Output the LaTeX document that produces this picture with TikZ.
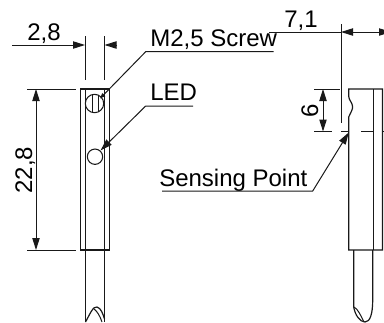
\documentclass[tikz,border=0pt]{standalone}
\usepackage{fontspec}
\setmainfont{Liberation Sans}
\usetikzlibrary{arrows.meta}
\tikzset{
	bodyline/.style={draw=black!90, line width=0.9pt},
	dimline/.style={draw=black!90, line width=0.75pt},
	dimtip/.style={dimline, arrows={-{Triangle[length=9pt,width=5.5pt]}}},
	dimtips/.style={dimline, arrows={{Triangle[length=9pt,width=5.5pt]}-{Triangle[length=9pt,width=5.5pt]}}},
	lbl/.style={black, inner sep=0pt, font=\fontsize{18}{20}\selectfont},
}
\begin{document}
\begin{tikzpicture}[x=0.75pt,y=-0.75pt]
		\useasboundingbox (0,0) rectangle (384,322);
		% texts
		\node[lbl, anchor=base west] (widthlabel) at (27,40) {2,8};
		\node[lbl, anchor=base west] (screwlabel) at (150,46) {M2,5 Screw};
		\node[lbl, anchor=base west] (ledlabel) at (150,100) {LED};
		\node[lbl, anchor=base, rotate=90] (heightlabel) at (32,170) {22,8};
		\node[lbl, anchor=base west] (offsetlabel) at (284,27) {7,1};
		\node[lbl, anchor=base, rotate=90] (sixlabel) at (318,111) {6};
		\node[lbl, anchor=base west] (sensinglabel) at (159,186) {Sensing Point};
		% left view
		\draw[bodyline] (80.5,89) rectangle (109.5,250);
		\draw[dimline] (85.5,89) -- (85.5,250);
		\draw[dimline] (104.5,89) -- (104.5,250);
		\draw[bodyline] (85.5,250) -- (85.5,322);
		\draw[bodyline] (104.5,250) -- (104.5,322);
		\node[circle, draw=black!90, line width=0.8pt, minimum size=13.8pt, inner sep=0pt] (screwhole) at (94.5,103.5) {};
		\draw[dimline] (92,95) -- (92,112);
		\draw[dimline] (98,95) -- (98,112);
		\node[circle, draw=black!90, line width=0.8pt, minimum size=11.5pt, inner sep=0pt] (ledhole) at (95,156.7) {};
		\draw[bodyline] (85.5,322) .. controls (90,314) and (93,306) .. (97,307) .. controls (101,308) and (103,314) .. (104.5,319);
		\draw[dimline] (94,309) .. controls (97,311) and (100,316) .. (102,322);
		% right view
		\draw[bodyline] (348.7,89) -- (382.5,89) -- (382.5,250) -- (348.7,250) -- (348.7,117) .. controls (351,112) and (353,109) .. (352.5,106) .. controls (352,102) and (348.7,100) .. (348.7,96) -- cycle;
		\draw[bodyline] (373.7,89) -- (373.7,250);
		\draw[bodyline] (353.7,250) -- (353.7,307) .. controls (355,315) and (360,322) .. (365,322) .. controls (370,322) and (372.7,314) .. (372.7,300) -- (372.7,250);
		\draw[dimline] (354,307) .. controls (358,309) and (361,316) .. (364,322);
		\draw[dimline] (341,131.5) -- (348.7,131.5);
		\draw[dimline] (361,131.5) -- (373.7,131.5);
		\draw[dimline] (382,131.5) -- (384,131.5);
		% width
		\coordinate (widthfree) at (12,45);
		\coordinate (widthleft) at (85,45);
		\coordinate (widthright) at (104.5,45);
		\coordinate (widthstub) at (117,45);
		\draw[dimtip] (widthfree) -- (widthleft);
		\draw[dimtip] (widthstub) -- (widthright);
		\draw[dimline] (widthleft |- 0,36) -- (widthleft |- 0,80);
		\draw[dimline] (widthright |- 0,36) -- (widthright |- 0,80);
		% height
		\coordinate (heighttop) at (36,89);
		\coordinate (heightbot) at (36,250);
		\draw[dimtips] (heighttop) -- (heightbot);
		\draw[dimline] (27,89) -- (76,89);
		\draw[dimline] (27,250) -- (76,250);
		% offset
		\coordinate (offsetfree) at (269,32);
		\coordinate (offsetleft) at (341,32);
		\coordinate (offsetright) at (391,32);
		\draw[dimline] (offsetfree) -- (offsetleft);
		\draw[dimtips] (offsetleft) -- (offsetright);
		\draw[dimline] (341,24) -- (341,123);
		% six
		\coordinate (sixtop) at (323,89);
		\coordinate (sixbot) at (323,131.5);
		\draw[dimtips] (sixtop) -- (sixbot);
		\draw[dimline] (314,89) -- (340,89);
		\draw[dimline] (314,131.5) -- (332,131.5);
		% leaders
		\coordinate (screwend) at (273.7,51.7);
		\coordinate (screwknee) at (145.7,51.7);
		\coordinate (screwtip) at (100,98.5);
		\draw[dimline, arrows={-{Triangle[length=4pt,width=3pt]}}] (screwend) -- (screwknee) -- (screwtip);
		\coordinate (ledend) at (193,106);
		\coordinate (ledknee) at (145.7,106);
		\coordinate (ledtip) at (100.5,150.5);
		\draw[dimtip] (ledend) -- (ledknee) -- (ledtip);
		\coordinate (sensingend) at (162,191);
		\coordinate (sensingknee) at (312.7,191);
		\coordinate (sensingtip) at (348.7,132.5);
		\draw[dimtip] (sensingend) -- (sensingknee) -- (sensingtip);
	\end{tikzpicture}
\end{document}
